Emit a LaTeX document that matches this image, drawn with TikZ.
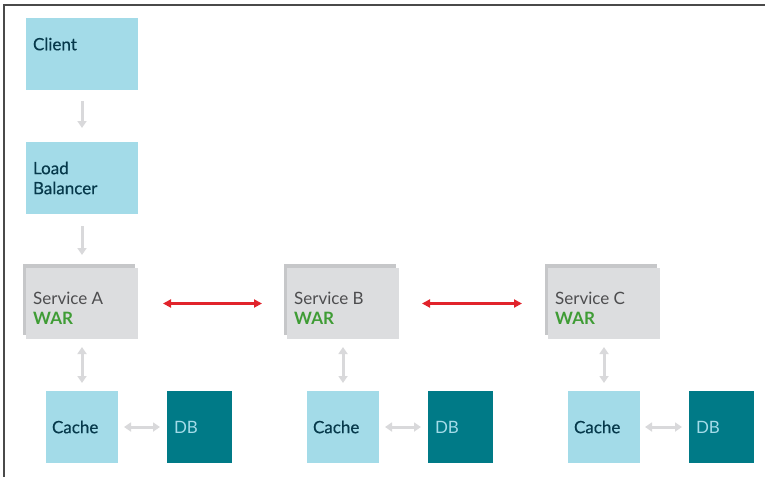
\documentclass[tikz,border=0pt]{standalone}
\usepackage{fontspec}
\setmainfont{Lato}
\newfontfamily\medfont{Lato}[FakeBold=0.4]
\usetikzlibrary{arrows.meta,calc}
\definecolor{lblue}{HTML}{A3DBE8}
\definecolor{teal}{HTML}{007A87}
\definecolor{navy}{HTML}{06394B}
\definecolor{svgray}{HTML}{DCDDDF}
\definecolor{svshadow}{HTML}{C6C7C9}
\definecolor{svtext}{HTML}{4D4D4F}
\definecolor{wargreen}{HTML}{3F9C35}
\definecolor{redarrow}{HTML}{E1232B}
\definecolor{grayarrow}{HTML}{D9D9DB}
\definecolor{framecol}{HTML}{4A4A4A}
\begin{document}
\begin{tikzpicture}[x=1pt,y=-1pt,
  box/.style={anchor=north west, inner sep=0pt, outer sep=0pt, align=left,
    font=\fontsize{17}{20}\selectfont},
  bigbox/.style={box, minimum width=112pt, minimum height=72pt, text width=98pt},
  bluebox/.style={bigbox, fill=lblue, text=navy, font=\fontsize{17}{20}\medfont},
  svcbox/.style={box, minimum width=112pt, minimum height=71pt, fill=svgray},
  shadowbox/.style={box, minimum width=112pt, minimum height=71pt, fill=svshadow},
  svclabel/.style={anchor=west, inner sep=0pt, align=left, text=svtext,
    font=\fontsize{17}{20}\selectfont},
  cachebox/.style={box, minimum width=72pt, minimum height=72pt, text width=60pt, fill=lblue, text=navy, font=\fontsize{17}{20}\medfont},
  dbbox/.style={box, minimum width=65pt, minimum height=72pt, text width=51pt, fill=teal, text=lblue},
  garrow/.style={draw=grayarrow, line width=3pt, -{Triangle[width=9pt,length=7pt]}},
  gdarrow/.style={draw=grayarrow, line width=3pt, {Triangle[width=9pt,length=7pt]}-{Triangle[width=9pt,length=7pt]}},
  rarrow/.style={draw=redarrow, line width=2.5pt, {Triangle[width=8pt,length=8pt]}-{Triangle[width=8pt,length=8pt]}},
  frameline/.style={draw=framecol, line width=1.3pt}
]
\useasboundingbox (0,0) rectangle (765,477);
\draw[frameline] (765,5) -- (4,5) -- (4,477);

\node[bluebox] (client) at (26,18) {Client\\\mbox{}};
\node[bluebox] (lb) at (26,142) {Load\\Balancer};

\node[shadowbox] (sash) at (23,264) {};
\node[shadowbox] (sbsh) at (284,264) {};
\node[shadowbox] (scsh) at (545,264) {};
\node[svcbox] (sa) at (26,268) {};
\node[svcbox] (sb) at (287,268) {};
\node[svcbox] (sc) at (548,268) {};
\node[svclabel] (sat) at ($(sa.west)+(7,5)$) {Service A\\\textcolor{wargreen}{\bfseries WAR}};
\node[svclabel] (sbt) at ($(sb.west)+(7,5)$) {Service B\\\textcolor{wargreen}{\bfseries WAR}};
\node[svclabel] (sct) at ($(sc.west)+(7,5)$) {Service C\\\textcolor{wargreen}{\bfseries WAR}};

\node[cachebox] (ca) at (46,391) {Cache};
\node[cachebox] (cb) at (307,391) {Cache};
\node[cachebox] (cc) at (568,391) {Cache};
\node[dbbox] (da) at (167,391) {DB};
\node[dbbox] (db) at (428,391) {DB};
\node[dbbox] (dc) at (689,391) {DB};

\draw[garrow, shorten <=11pt, shorten >=14pt] (client) -- (lb);
\draw[garrow, shorten <=12pt, shorten >=13pt] (lb) -- (sa);

\draw[rarrow, shorten <=25pt, shorten >=25pt] (sa.east) -- (sb.west);
\draw[rarrow, shorten <=23pt, shorten >=26pt] (sb.east) -- (sc.west);

\draw[gdarrow, shorten <=8pt, shorten >=8pt] (sa) -- (ca);
\draw[gdarrow, shorten <=8pt, shorten >=8pt] (sb) -- (cb);
\draw[gdarrow, shorten <=8pt, shorten >=8pt] (sc) -- (cc);

\draw[gdarrow, shorten <=6pt, shorten >=7pt] (ca) -- (da);
\draw[gdarrow, shorten <=6pt, shorten >=7pt] (cb) -- (db);
\draw[gdarrow, shorten <=5pt, shorten >=7pt] (cc) -- (dc);
\end{tikzpicture}
\end{document}
